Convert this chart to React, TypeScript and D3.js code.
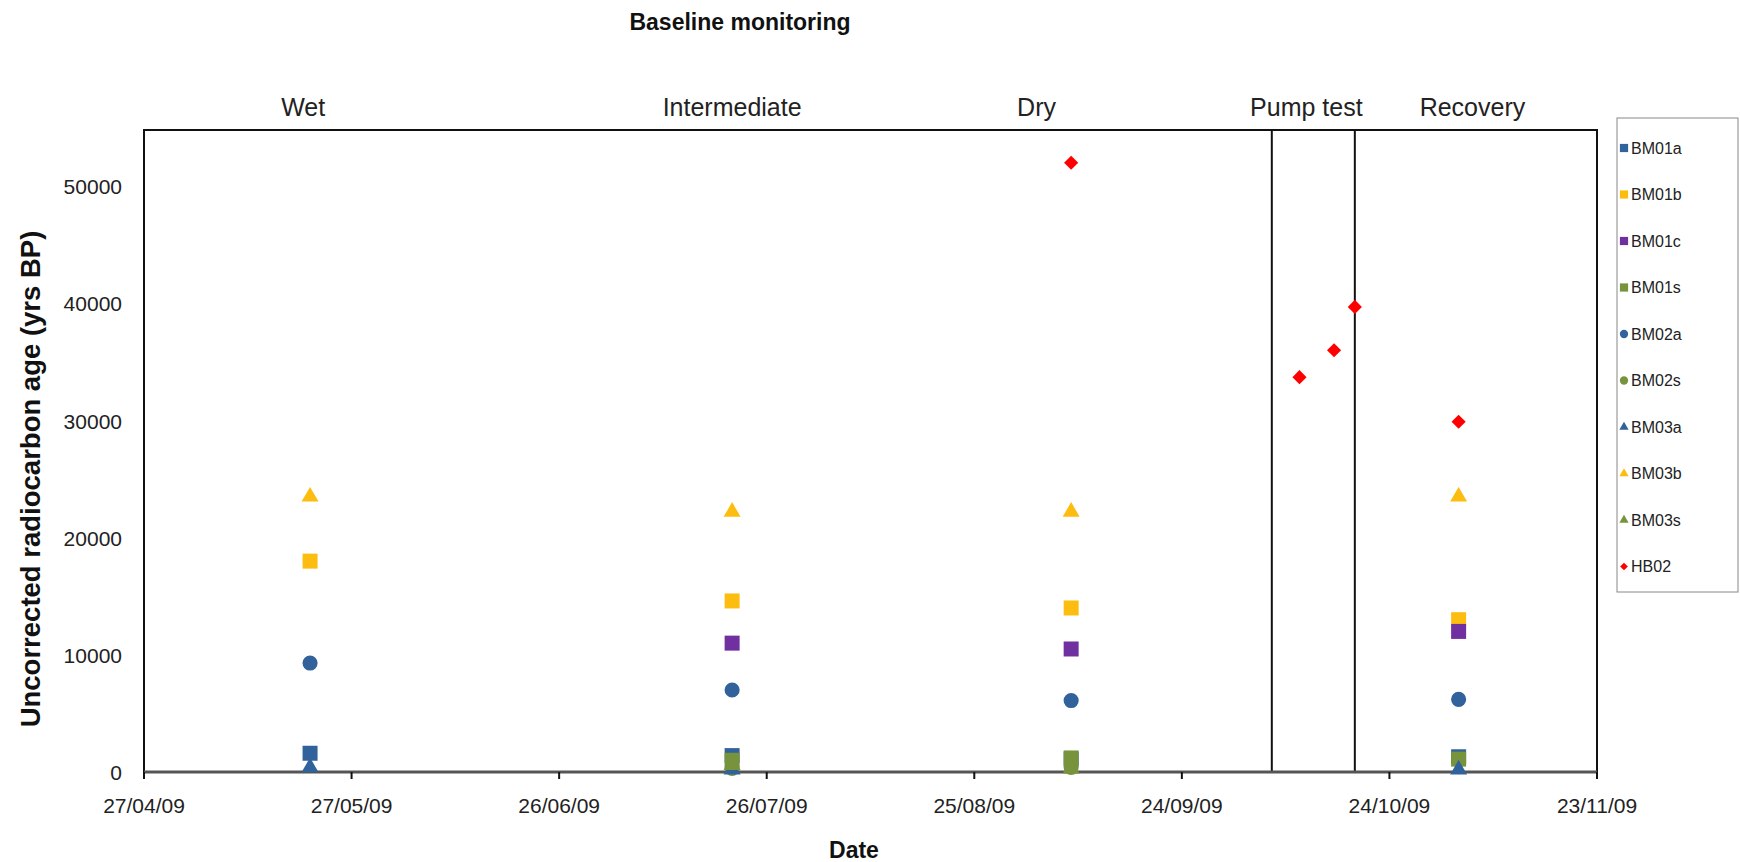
import React from "react";
import * as d3 from "d3";

// sampling campaigns (wet, intermediate, dry, recovery)
const campaignDates = ["2009-05-21", "2009-07-21", "2009-09-08", "2009-11-03"];
const pumpDates = ["2009-10-11", "2009-10-16", "2009-10-19"];

const BM01a = [1600, 1400, 1100, 1300];
const BM01b = [18000, 14600, 14000, 13000];
const BM01c = [null, 11000, 10500, 12000];
const BM01s = [null, 1000, 1200, 1100];
const BM02a = [9300, 7000, 6100, 6200];
const BM02s = [null, 300, 400, null];
const BM03a = [400, 200, null, 200];
const BM03b = [23500, 22200, 22200, 23500];
const BM03s = [null, 600, 300, null];
// HB02: dry campaign, pump test, recovery
const HB02dates = ["2009-09-08", ...pumpDates, "2009-11-03"];
const HB02 = [52000, 33700, 36000, 39700, 29900];

const xTickDates = ["2009-04-27", "2009-05-27", "2009-06-26", "2009-07-26", "2009-08-25", "2009-09-24", "2009-10-24", "2009-11-23"];
const yTicks = [0, 10000, 20000, 30000, 40000, 50000];
const pumpTestBounds = ["2009-10-07", "2009-10-19"];
const phaseNames = ["Wet", "Intermediate", "Dry", "Pump test", "Recovery"];
const phaseDates = ["2009-05-20", "2009-07-21", "2009-09-03", "2009-10-12", "2009-11-05"];

const BLUE = "#31629b";
const YELLOW = "#fcbd10";
const PURPLE = "#7030a0";
const GREEN = "#77933c";
const RED = "#ff0000";

const series = [
  { name: "BM01a", shape: "square", color: BLUE, values: BM01a },
  { name: "BM01b", shape: "square", color: YELLOW, values: BM01b },
  { name: "BM01c", shape: "square", color: PURPLE, values: BM01c },
  { name: "BM01s", shape: "square", color: GREEN, values: BM01s },
  { name: "BM02a", shape: "circle", color: BLUE, values: BM02a },
  { name: "BM02s", shape: "circle", color: GREEN, values: BM02s },
  { name: "BM03a", shape: "triangle", color: BLUE, values: BM03a },
  { name: "BM03b", shape: "triangle", color: YELLOW, values: BM03b },
  { name: "BM03s", shape: "triangle", color: GREEN, values: BM03s },
  { name: "HB02", shape: "diamond", color: RED, values: HB02, dates: HB02dates },
];

const parse = d3.timeParse("%Y-%m-%d");
const fmt = d3.timeFormat("%d/%m/%y");
const FONT = "'Liberation Sans', Arial, sans-serif";

const W = 1740;
const H = 862;
const plot = { left: 144, right: 1597, top: 130, bottom: 772 };

const symbolPath = (shape: string, scale: number) => {
  if (shape === "square") return d3.symbol(d3.symbolSquare, 225 * scale)();
  if (shape === "circle") return d3.symbol(d3.symbolCircle, 180 * scale)();
  if (shape === "triangle") return d3.symbol(d3.symbolTriangle, 125 * scale)();
  return d3.symbol(d3.symbolSquare, 100 * scale)();
};

export default function App() {
  const x = d3
    .scaleTime()
    .domain([parse(xTickDates[0]), parse(xTickDates[xTickDates.length - 1])])
    .range([plot.left, plot.right]);
  const y = d3.scaleLinear().domain([0, 54800]).range([plot.bottom, plot.top]);

  const points = series.flatMap((s) =>
    s.values
      .map((v, i) => ({ v, date: (s.dates || campaignDates)[i], s }))
      .filter((p) => p.v !== null)
  );

  return (
    <svg width={W} height={H} style={{ position: "absolute", left: 0, top: 0, background: "#fff" }} fontFamily={FONT}>
      <text x={740} y={30} textAnchor="middle" fontWeight="bold" fontSize={23} fill="#111">
        Baseline monitoring
      </text>

      {phaseNames.map((n, i) => (
        <text key={n} x={x(parse(phaseDates[i]))} y={116} textAnchor="middle" fontSize={25} fill="#222">
          {n}
        </text>
      ))}

      {/* plot frame */}
      <rect x={plot.left} y={plot.top} width={plot.right - plot.left} height={plot.bottom - plot.top} fill="none" stroke="#111" strokeWidth={2} />
      {pumpTestBounds.map((d) => (
        <line key={d} x1={x(parse(d))} x2={x(parse(d))} y1={plot.top} y2={plot.bottom} stroke="#111" strokeWidth={2} />
      ))}
      <line x1={plot.left} x2={plot.right} y1={plot.bottom} y2={plot.bottom} stroke="#555" strokeWidth={3} />

      {/* x axis */}
      {xTickDates.map((d) => (
        <g key={d} transform={`translate(${x(parse(d))},0)`}>
          <line y1={plot.bottom} y2={plot.bottom + 7} stroke="#111" strokeWidth={2} />
          <text y={plot.bottom + 41} textAnchor="middle" fontSize={21} fill="#222">
            {fmt(parse(d))}
          </text>
        </g>
      ))}
      <text x={854} y={858} textAnchor="middle" fontWeight="bold" fontSize={23} fill="#111">
        Date
      </text>

      {/* y axis */}
      {yTicks.map((t) => (
        <text key={t} x={122} y={y(t) + 8} textAnchor="end" fontSize={21} fill="#222">
          {t}
        </text>
      ))}
      <text transform={`translate(40,479) rotate(-90)`} textAnchor="middle" fontWeight="bold" fontSize={27.5} fill="#111">
        Uncorrected radiocarbon age (yrs BP)
      </text>

      {/* markers */}
      {points.map((p, i) => (
        <path
          key={i}
          d={symbolPath(p.s.shape, 1)}
          fill={p.s.color}
          transform={`translate(${x(parse(p.date))},${y(p.v as number)})${p.s.shape === "diamond" ? " rotate(45)" : ""}`}
        />
      ))}

      {/* legend */}
      <rect x={1617} y={118} width={121} height={474} fill="#fff" stroke="#888" strokeWidth={1} />
      {series.map((s, i) => (
        <g key={s.name} transform={`translate(1624,${148 + i * 46.5})`}>
          <path d={symbolPath(s.shape, 0.3)} fill={s.color} transform={s.shape === "diamond" ? "rotate(45)" : ""} />
          <text x={7} y={5.5} fontSize={16} fill="#222">
            {s.name}
          </text>
        </g>
      ))}
    </svg>
  );
}
